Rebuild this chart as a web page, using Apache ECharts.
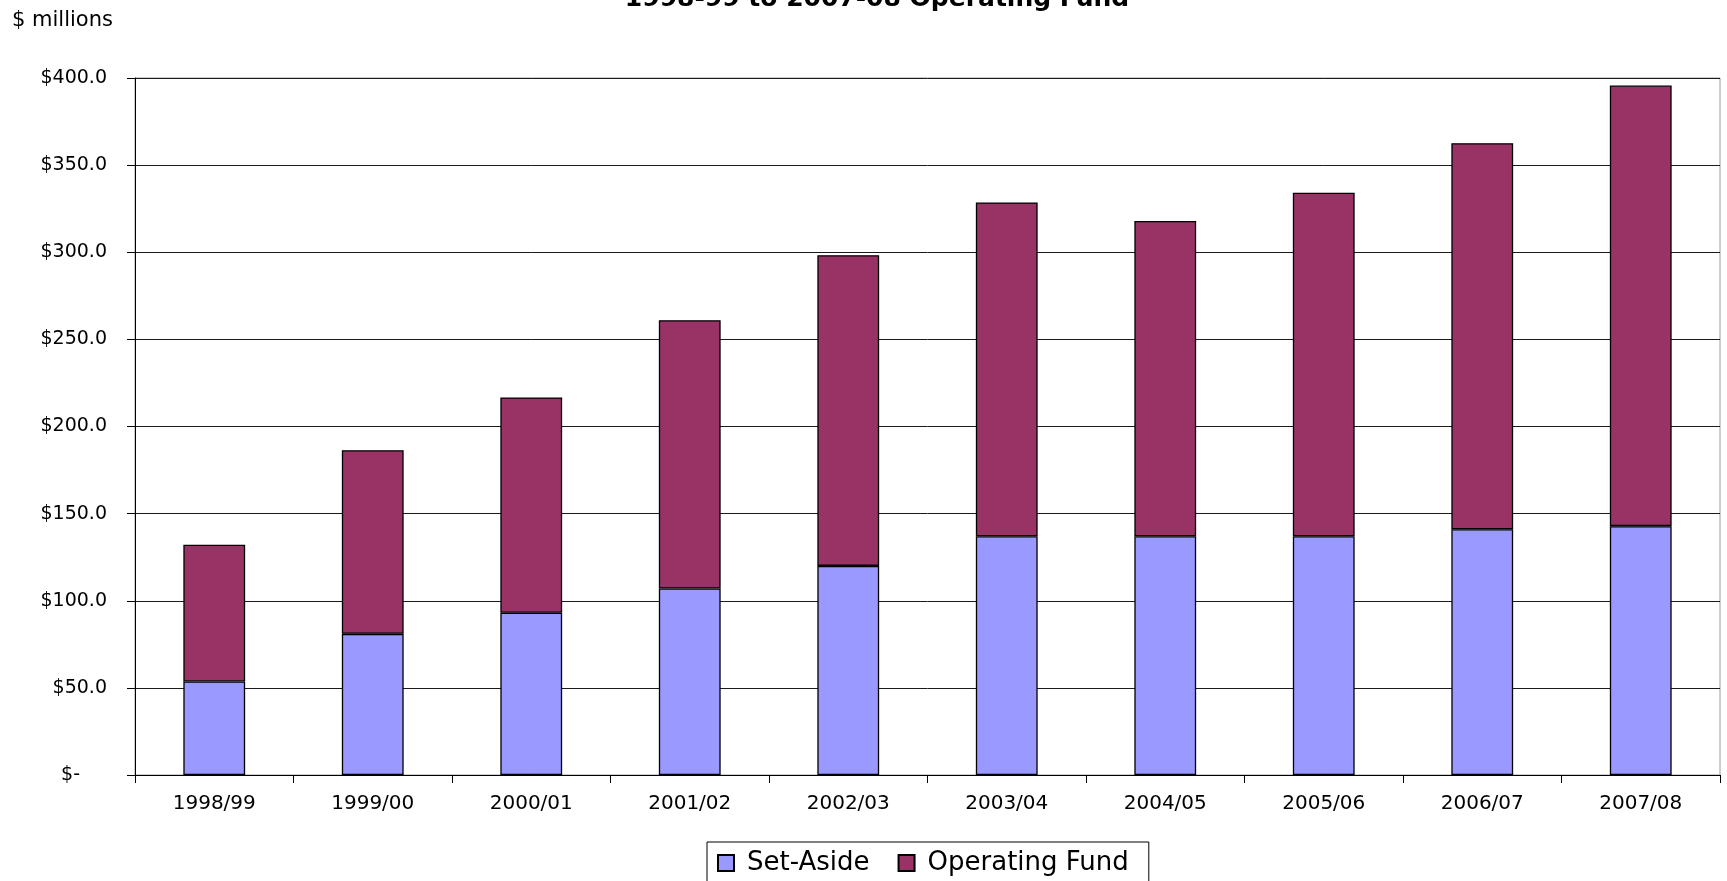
<!DOCTYPE html>
<html>
<head>
<meta charset="utf-8">
<title>Operating Fund</title>
<script src="https://cdn.jsdelivr.net/npm/echarts@6/dist/echarts.min.js"></script>
<style>
  html, body { margin: 0; padding: 0; background: #fff; }
  #chart { width: 1727px; height: 881px; }
</style>
</head>
<body>
<div id="chart"></div>
<script>
// Fiscal years on the category axis
const years = ['1998/99', '1999/00', '2000/01', '2001/02', '2002/03',
               '2003/04', '2004/05', '2005/06', '2006/07', '2007/08'];

// $ millions, stacked: set-aside at the bottom, operating fund on top
const setAside      = [53.7, 81.0, 93.1, 107.0, 120.0, 137.0, 137.0, 137.0, 141.0, 142.8];
const operatingFund = [78.5, 105.4, 123.6, 154.0, 178.3, 191.6, 180.9, 197.2, 221.6, 252.9];

// Value-axis ticks
const yMin = 0, yMax = 400, yStep = 50;

const FONT = 'DejaVu Sans';

function moneyLabel(v) {
  if (v === 0) return '{z|$-}';
  return '$' + v.toFixed(1);
}

const chart = echarts.init(document.getElementById('chart'), null, { renderer: 'canvas' });

chart.setOption({
  animation: false,
  backgroundColor: '#ffffff',
  title: {
    text: '1998-99 to 2007-08 Operating Fund',
    left: 872,
    textAlign: 'center',
    top: -18,
    textStyle: { fontFamily: FONT, fontWeight: 'bold', fontSize: 25, color: '#000' }
  },
  graphic: [{
    type: 'text',
    left: 12,
    top: 10,
    style: { text: '$ millions', font: '21px "DejaVu Sans"', fill: '#000' }
  }],
  legend: {
    left: 707,
    top: 842,
    orient: 'horizontal',
    padding: [8, 20, 40, 10],
    itemGap: 28,
    itemWidth: 16,
    itemHeight: 16,
    borderColor: '#000',
    borderWidth: 1,
    icon: 'rect',
    textStyle: { fontFamily: FONT, fontSize: 26, color: '#000', padding: [0, 0, 0, 8] },
    data: ['Set-Aside', 'Operating Fund']
  },
  grid: {
    left: 135,
    right: 7,
    top: 78,
    bottom: 106,
    show: true,
    borderColor: '#9a9a9a',
    borderWidth: 1,
    backgroundColor: 'transparent'
  },
  xAxis: {
    type: 'category',
    data: years,
    boundaryGap: true,
    axisLine: { lineStyle: { color: '#000', width: 1 } },
    axisTick: { show: true, length: 8, alignWithLabel: false, lineStyle: { color: '#000' } },
    axisLabel: { fontFamily: FONT, fontSize: 20, color: '#000', margin: 19, interval: 0 }
  },
  yAxis: {
    type: 'value',
    min: yMin,
    max: yMax,
    interval: yStep,
    axisLine: { show: true, lineStyle: { color: '#000', width: 1 } },
    axisTick: { show: true, length: 8, lineStyle: { color: '#000' } },
    splitLine: { show: true, lineStyle: { color: '#1a1a1a', width: 1 } },
    axisLabel: {
      fontFamily: FONT, fontSize: 19, color: '#000', margin: 28,
      formatter: moneyLabel,
      rich: { z: { fontFamily: FONT, fontSize: 19, color: '#000', padding: [0, 27, 0, 0] } }
    }
  },
  series: [
    {
      name: 'Set-Aside',
      type: 'bar',
      stack: 'total',
      barWidth: '39%',
      data: setAside,
      itemStyle: { color: '#9999ff', borderColor: '#000', borderWidth: 1.3 }
    },
    {
      name: 'Operating Fund',
      type: 'bar',
      stack: 'total',
      barWidth: '39%',
      data: operatingFund,
      itemStyle: { color: '#993366', borderColor: '#000', borderWidth: 1.3 }
    }
  ]
});
</script>
</body>
</html>
